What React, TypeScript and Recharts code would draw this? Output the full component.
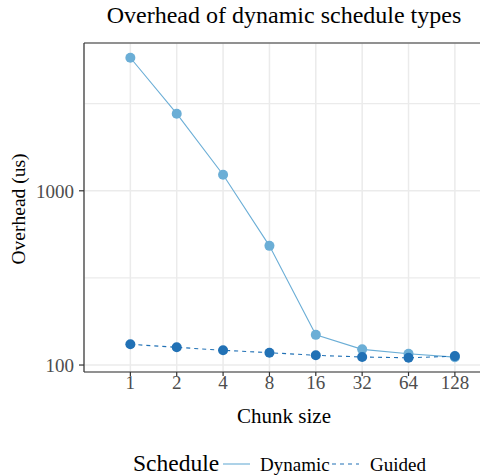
import { LineChart, Line, XAxis, YAxis, CartesianGrid, ReferenceLine } from 'recharts'

// values (microseconds)
const chunkSizes = [1, 2, 4, 8, 16, 32, 64, 128]
const dynamicUs = [5800, 2770, 1236, 483, 149, 123, 116, 111]
const guidedUs = [131.5, 126.4, 121.5, 117.7, 113.7, 111.2, 110, 112.5]
const yTicks = [100, 1000]
const yMinor = [316.2, 3162]

const DYNAMIC = '#6baed6'
const GUIDED = '#2171b5'
const FONT = "'Liberation Serif', 'DejaVu Serif', serif"

const data = chunkSizes.map((c, i) => ({
  chunk: c,
  dynamic: dynamicUs[i],
  guided: guidedUs[i],
}))

const txt = { fontFamily: FONT, fill: '#000' }

export default function App() {
  return (
    <div
      style={{
        position: 'absolute',
        left: 0,
        top: 0,
        width: 480,
        height: 476,
        overflow: 'hidden',
        background: '#fff',
        fontFamily: FONT,
      }}
    >
      <LineChart
        width={490}
        height={476}
        data={data}
        margin={{ top: 43, right: 8, bottom: 0, left: 0 }}
      >
        <CartesianGrid stroke="#ebebeb" strokeWidth={1.5} />
        {yMinor.map((v) => (
          <ReferenceLine key={v} y={v} stroke="#ebebeb" strokeWidth={1.2} />
        ))}
        <XAxis
          dataKey="chunk"
          type="number"
          scale="log"
          domain={[0.5, 192]}
          ticks={chunkSizes}
          allowDataOverflow
          height={104}
          tickSize={4}
          tickMargin={0}
          axisLine={{ stroke: '#333', strokeWidth: 1.2 }}
          tickLine={{ stroke: '#333', strokeWidth: 1.2 }}
          tick={{ fill: '#4d4d4d', fontSize: 19, fontFamily: FONT }}
        />
        <YAxis
          type="number"
          scale="log"
          domain={[91.2, 7050]}
          ticks={yTicks}
          allowDataOverflow
          width={84}
          tickSize={5}
          tickMargin={5}
          axisLine={{ stroke: '#333', strokeWidth: 1.2 }}
          tickLine={{ stroke: '#333', strokeWidth: 1.2 }}
          tick={{ fill: '#4d4d4d', fontSize: 19, fontFamily: FONT }}
        />
        <ReferenceLine y={7050} stroke="#333" strokeWidth={1.2} />
        <Line
          dataKey="dynamic"
          stroke={DYNAMIC}
          strokeWidth={1.1}
          dot={{ r: 5, fill: DYNAMIC, stroke: 'none' }}
          isAnimationActive={false}
        />
        <Line
          dataKey="guided"
          stroke={GUIDED}
          strokeWidth={1.1}
          strokeDasharray="4 4"
          dot={{ r: 5, fill: GUIDED, stroke: 'none', strokeDasharray: '' }}
          isAnimationActive={false}
        />
      </LineChart>

      {/* title, axis titles and legend */}
      <svg
        width={480}
        height={476}
        style={{ position: 'absolute', left: 0, top: 0, pointerEvents: 'none' }}
      >
        <text x={284} y={23} textAnchor="middle" fontSize={24} style={txt}>
          Overhead of dynamic schedule types
        </text>
        <text x={284} y={423} textAnchor="middle" fontSize={21} style={txt}>
          Chunk size
        </text>
        <text
          transform="translate(25,209) rotate(-90)"
          textAnchor="middle"
          fontSize={19.5}
          style={txt}
        >
          Overhead (us)
        </text>
        <text x={133} y={471} fontSize={23.5} style={txt}>Schedule</text>
        <line x1={223} x2={250} y1={464} y2={464} stroke={DYNAMIC} strokeWidth={1.1} />
        <text x={260} y={471} fontSize={19} style={txt}>Dynamic</text>
        <line x1={332} x2={359} y1={464} y2={464} stroke={GUIDED} strokeWidth={1.1} strokeDasharray="4 4" />
        <text x={370} y={471} fontSize={19} style={txt}>Guided</text>
      </svg>
    </div>
  )
}
